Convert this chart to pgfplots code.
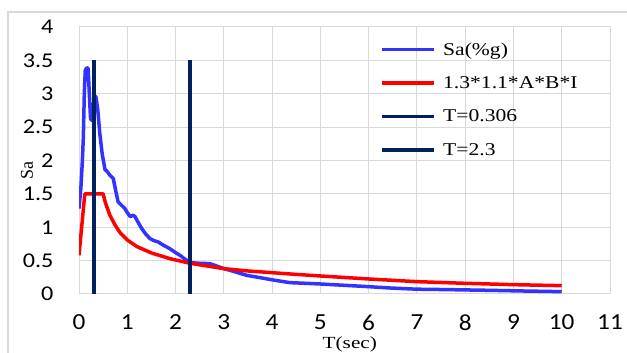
\documentclass[border=0pt]{standalone}
\usepackage{pgfplots}
\pgfplotsset{compat=1.18}
\usepackage{fontspec}
\setmainfont{Liberation Serif}
\newfontfamily\calibri{Carlito}
\definecolor{gridgray}{HTML}{D9D9D9}
\definecolor{saBlue}{HTML}{3333FF}
\definecolor{navy}{HTML}{002060}
\begin{document}
\begin{tikzpicture}[x=1pt,y=1pt]
\useasboundingbox (0,0) rectangle (627,353);
\fill[white] (0,0) rectangle (627,353);
\draw[gridgray, line width=1.5pt] (8,0) -- (8,341) -- (627,341);
\begin{axis}[
  at={(79pt,59pt)}, anchor=south west,
  scale only axis, width=531pt, height=267pt,
  xmin=0, xmax=11, ymin=0, ymax=4,
  xtick={0,1,...,11}, ytick={0,0.5,...,4},
  grid=major, major grid style={gridgray, line width=1pt},
  axis line style={gridgray, line width=1pt},
  tick style={draw=none},
  /pgf/number format/assume math mode=true,
  yticklabel style={font=\calibri\fontsize{21}{24}\selectfont, xscale=1.15, anchor=east, inner sep=0pt, xshift=-22pt},
  xticklabel style={font=\calibri\fontsize{23}{26}\selectfont, xscale=1.1, anchor=center, inner sep=0pt, yshift=-28.5pt},
  xlabel={T(sec)}, ylabel={Sa},
  label style={font=\fontsize{18}{20}\selectfont},
  xlabel style={at={(rel axis cs:0.51,0)}, anchor=center, inner sep=0pt, font=\fontsize{17}{19}\selectfont, xscale=1.25, yshift=-50.5pt},
  ylabel style={at={(rel axis cs:0,0.464)}, anchor=center, yshift=52pt},
  legend style={at={(rel axis cs:0.567,0.95)}, anchor=north west, draw=none, fill=none,
    font=\fontsize{18}{21}\selectfont, inner sep=0pt, row sep=16pt,
    nodes={xscale=1.2},
    /tikz/every odd column/.append style={column sep=5pt}},
  legend cell align=left,
  legend image code/.code={\draw[#1] (0pt,0pt) -- (52pt,0pt);},
]
\addplot[saBlue, line width=3.5pt, line join=round] coordinates {
(0,1.28) (0.04,1.6) (0.07,2.0) (0.09,2.35) (0.11,3.0) (0.13,3.35) (0.16,3.39) (0.19,3.38)
(0.22,2.9) (0.24,2.62) (0.27,2.6) (0.30,2.85) (0.35,2.96) (0.39,2.75) (0.43,2.41)
(0.48,2.1) (0.54,1.86) (0.58,1.84) (0.64,1.78) (0.71,1.73) (0.76,1.55) (0.81,1.38)
(0.88,1.33) (0.95,1.28) (1.00,1.22) (1.06,1.16) (1.12,1.18) (1.16,1.16) (1.22,1.08)
(1.30,0.98) (1.38,0.90) (1.47,0.83) (1.55,0.80) (1.64,0.78) (1.75,0.73) (1.88,0.68)
(2.00,0.62) (2.09,0.58) (2.20,0.52) (2.30,0.47) (2.50,0.46) (2.71,0.455) (2.85,0.42)
(3.00,0.38) (3.20,0.34) (3.47,0.28) (3.75,0.245) (4.02,0.21) (4.37,0.17) (4.70,0.16)
(5.00,0.15) (5.50,0.13) (6.00,0.11) (6.44,0.09) (7.00,0.072) (7.60,0.066) (8.50,0.055)
(9.20,0.045) (10.0,0.035)
};
\addlegendentry{Sa(\%g)}
\addplot[red, line width=3.5pt, line join=round] coordinates {
(0,0.58) (0.12,1.5) (0.5,1.5) (0.55,1.36) (0.64,1.18) (0.75,1.03) (0.85,0.92)
(1.0,0.81) (1.2,0.71) (1.5,0.615) (1.88,0.53) (2.3,0.46) (3.0,0.38) (3.5,0.345)
(4.37,0.30) (5.0,0.27) (6.0,0.225) (7.0,0.185) (8.0,0.16) (9.0,0.14) (10.0,0.125)
};
\addlegendentry{1.3*1.1*A*B*I}
\addplot[navy, line width=3.5pt] coordinates {(0.306,0) (0.306,3.5)};
\addlegendentry{T=0.306}
\addplot[navy, line width=3.5pt] coordinates {(2.3,0) (2.3,3.5)};
\addlegendentry{T=2.3}
\end{axis}
\end{tikzpicture}
\end{document}
